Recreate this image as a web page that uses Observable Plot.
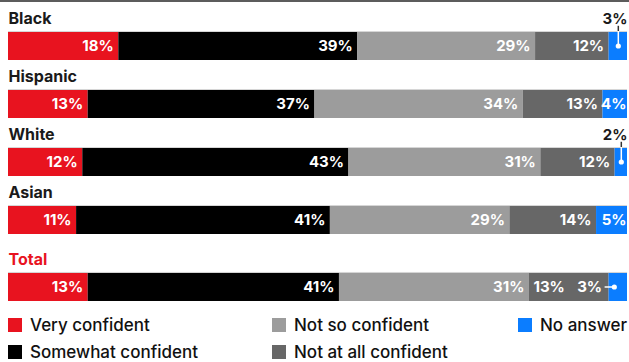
<!DOCTYPE html>
<html><head><meta charset="utf-8">
<script src="https://cdn.jsdelivr.net/npm/d3@7"></script>
<script src="https://cdn.jsdelivr.net/npm/@observablehq/plot@0.6"></script>
<style>
html,body{margin:0;padding:0;background:#fff;}
body{width:629px;height:362px;overflow:hidden;font-family:Inter,"Noto Sans",sans-serif;}
#chart{border-top:2px solid #5c5c5c;}
#chart svg{display:block;}
#legend{display:grid;grid-template-columns:264px 246px auto;grid-auto-rows:27px;padding:6px 0 0 8px;box-sizing:border-box;height:57px;}
.item{display:flex;align-items:center;font-size:17px;font-weight:500;color:#111;white-space:nowrap;}
.sw{width:14px;height:14px;margin-right:8px;flex:none;}
</style></head><body>
<div id="chart"></div>
<div id="legend"></div>
<script>
const groups = ["Black", "Hispanic", "White", "Asian", "Total"];
const categories = ["Very confident", "Somewhat confident", "Not so confident", "Not at all confident", "No answer"];
const colors = ["#e8131f", "#000000", "#9c9c9c", "#676767", "#0b7dff"];
const veryConfident = [18, 13, 12, 11, 13];
const somewhatConfident = [39, 37, 43, 41, 41];
const notSoConfident = [29, 34, 31, 29, 31];
const notAtAllConfident = [12, 13, 12, 14, 13];
const noAnswer = [3, 4, 2, 5, 3];

const series = [veryConfident, somewhatConfident, notSoConfident, notAtAllConfident, noAnswer];
const rows = groups.map((g, i) => ({group: g, pos: i + (g === "Total" ? 0.155 : 0)}));
const segments = [];
rows.forEach((r, i) => {
  const total = d3.sum(series, s => s[i]);
  let acc = 0;
  categories.forEach((c, k) => {
    const v = series[k][i];
    segments.push({group: r.group, pos: r.pos, category: c, value: v, x1: acc / total, x2: (acc + v) / total});
    acc += v;
  });
});
const isCallout = d => d.category === "No answer" && d.value <= 3;
const isLeft = d => isCallout(d) && d.group === "Total";
segments.forEach((d, i) => {
  const next = segments[i + 1];
  d.startAnchor = !!(next && next.group === d.group && isLeft(next));
});
const calloutAbove = segments.filter(d => isCallout(d) && !isLeft(d));
const calloutLeft = segments.filter(isLeft);
const insideEnd = segments.filter(d => !isCallout(d) && !d.startAnchor && d.category !== "No answer");
const insideNarrow = segments.filter(d => !isCallout(d) && d.category === "No answer");
const insideStart = segments.filter(d => d.startAnchor);
const mid = d => (d.x1 + d.x2) / 2;
const lab = d => d.value + "%";

const chart = Plot.plot({
  width: 629, height: 303,
  marginLeft: 8, marginRight: 2, marginTop: 0, marginBottom: 0,
  x: {domain: [0, 1], axis: null},
  y: {domain: [0, 5], range: [29, 29 + 5 * 58], axis: null},
  color: {domain: categories, range: colors},
  style: {fontFamily: "Inter, 'Noto Sans', sans-serif"},
  marks: [
    Plot.rectX(segments, {x1: "x1", x2: "x2", y1: "pos", y2: d => d.pos + 0.5, fill: "category"}),
    Plot.ruleY(rows, {y: "pos", x1: 0, x2: 1, stroke: "#d6d6d6", strokeWidth: 1}),
    Plot.text(rows.filter(r => r.group !== "Total"), {x: 0, y: d => d.pos - 0.21, text: "group", textAnchor: "start", fill: "#1a1a1a", fontWeight: 700, fontSize: 16}),
    Plot.text(rows.filter(r => r.group === "Total"), {x: 0, y: d => d.pos - 0.21, text: "group", textAnchor: "start", fill: "#e8131f", fontWeight: 700, fontSize: 16}),
    Plot.text(insideEnd, {x: "x2", y: d => d.pos + 0.25, text: lab, textAnchor: "end", dx: -5, fill: "white", fontWeight: 700, fontSize: 15}),
    Plot.text(insideNarrow, {x: "x2", y: d => d.pos + 0.25, text: lab, textAnchor: "end", dx: -1, fill: "white", fontWeight: 700, fontSize: 15}),
    Plot.text(insideStart, {x: "x1", y: d => d.pos + 0.25, text: lab, textAnchor: "start", dx: 4, fill: "white", fontWeight: 700, fontSize: 15}),
    // callouts above the bar
    Plot.text(calloutAbove, {x: "x2", y: d => d.pos - 0.21, text: lab, textAnchor: "end", fill: "#1a1a1a", fontWeight: 700, fontSize: 15}),
    Plot.ruleX(calloutAbove, {x: mid, y1: d => d.pos - 0.09, y2: "pos", stroke: "#333", strokeWidth: 1.5}),
    Plot.ruleX(calloutAbove, {x: mid, y1: "pos", y2: d => d.pos + 0.25, stroke: "white", strokeWidth: 1.5}),
    Plot.dot(calloutAbove, {x: mid, y: d => d.pos + 0.25, r: 2.6, fill: "white", stroke: null}),
    // callout to the left
    Plot.text(calloutLeft, {x: "x1", y: d => d.pos + 0.25, text: lab, textAnchor: "end", dx: -7, fill: "white", fontWeight: 700, fontSize: 15}),
    Plot.ruleY(calloutLeft, {y: d => d.pos + 0.25, x1: "x1", x2: mid, dx: -4, stroke: "white", strokeWidth: 1.5}),
    Plot.dot(calloutLeft, {x: mid, y: d => d.pos + 0.25, dx: -4, r: 2.6, fill: "white", stroke: null})
  ]
});
document.getElementById("chart").appendChild(chart);

const legendOrder = [0, 2, 4, 1, 3];
const legend = document.getElementById("legend");
legendOrder.forEach(k => {
  const it = document.createElement("div");
  it.className = "item";
  const sw = document.createElement("span");
  sw.className = "sw";
  sw.style.background = colors[k];
  it.appendChild(sw);
  it.appendChild(document.createTextNode(categories[k]));
  legend.appendChild(it);
});
</script>
</body></html>
